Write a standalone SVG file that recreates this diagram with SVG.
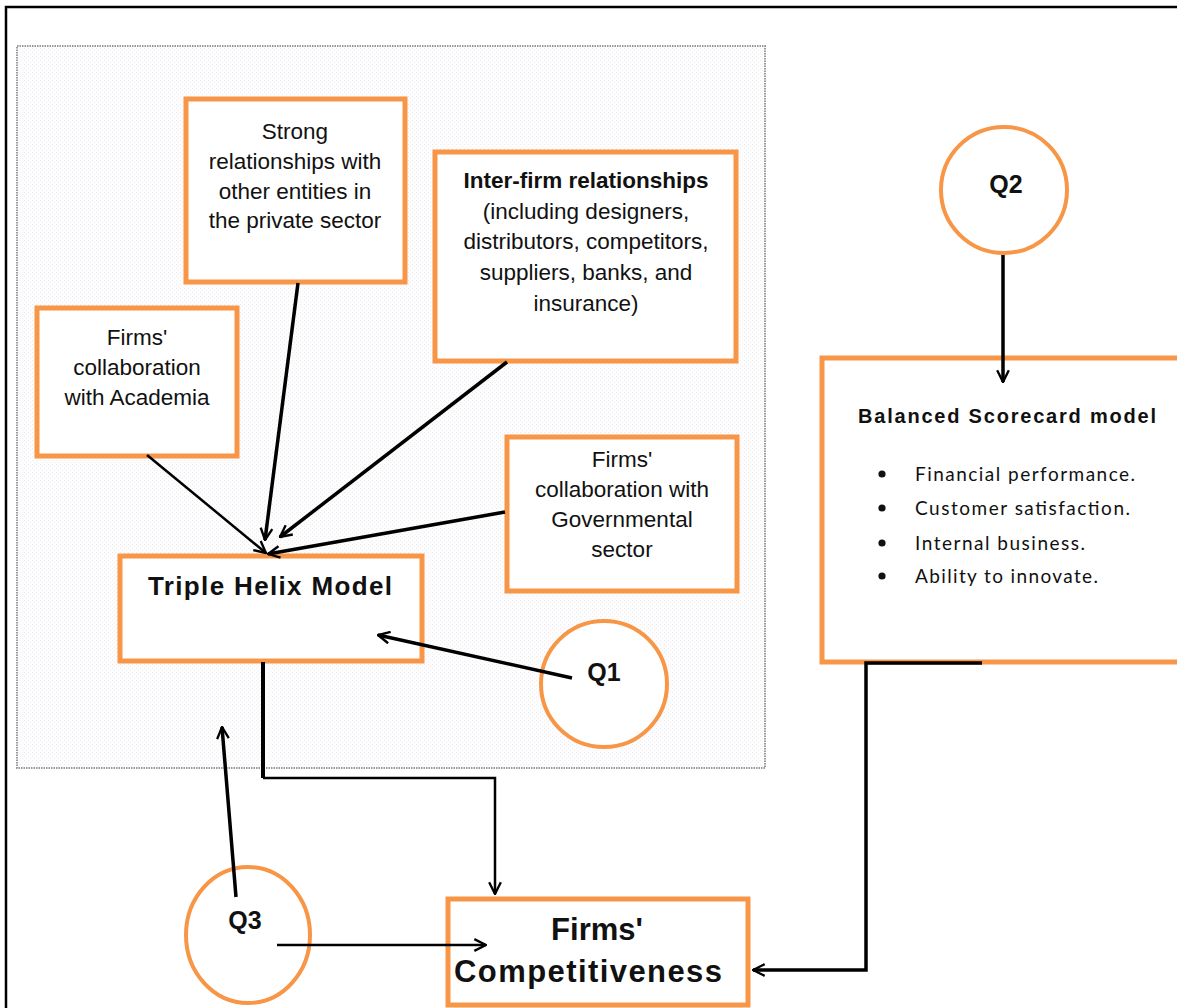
<svg xmlns="http://www.w3.org/2000/svg" width="1177" height="1008" viewBox="0 0 1177 1008">
<defs>
<pattern id="dots" width="4" height="4" patternUnits="userSpaceOnUse">
<rect width="4" height="4" fill="#fdfdfe"/>
<rect x="0" y="0" width="1" height="1" fill="#ebebf2"/>
<rect x="2" y="2" width="1" height="1" fill="#f0f0f5"/>
</pattern>
<marker id="arr" viewBox="0 0 12 12" refX="11" refY="6" markerWidth="14" markerHeight="14" markerUnits="userSpaceOnUse" orient="auto">
<path d="M1,1 L11,6 L1,11" fill="none" stroke="#000" stroke-width="2"/>
</marker>
<style>
.box{fill:#fff;stroke:#F79646;stroke-width:5}
.circ{fill:#fff;stroke:#F79646;stroke-width:4}
.t{font-family:"Liberation Sans",Arial,sans-serif;font-size:22.5px;fill:#111;text-anchor:middle}
.b{font-weight:bold}
.q{font-family:"Liberation Sans",Arial,sans-serif;font-size:25px;font-weight:bold;fill:#111;text-anchor:middle}
.bl{font-family:"Lato","Liberation Sans",sans-serif;font-size:19px;fill:#111}
.c{fill:none;stroke:#000;stroke-width:2.5;marker-end:url(#arr)}
.c3{fill:none;stroke:#000;stroke-width:3.5;marker-end:url(#arr)}
</style>
</defs>
<rect x="0" y="0" width="1177" height="1008" fill="#fff"/>
<rect x="6" y="7" width="1200" height="1060" fill="none" stroke="#000" stroke-width="2.5"/>
<rect id="bg" x="17" y="46" width="748" height="722" fill="url(#dots)" stroke="#999" stroke-width="2" stroke-dasharray="1.5,1"/>

<g id="strong">
<rect class="box" x="186" y="99" width="219" height="183"/>
<text class="t" x="295" y="139">Strong</text>
<text class="t" x="295" y="169">relationships with</text>
<text class="t" x="295" y="199">other entities in</text>
<text class="t" x="295" y="228">the private sector</text>
</g>
<g id="interfirm">
<rect class="box" x="435" y="152" width="301" height="209"/>
<text class="t b" x="586" y="188">Inter-firm relationships</text>
<text class="t" x="586" y="219">(including designers,</text>
<text class="t" x="586" y="249">distributors, competitors,</text>
<text class="t" x="586" y="280">suppliers, banks, and</text>
<text class="t" x="586" y="311">insurance)</text>
</g>
<g id="academia">
<rect class="box" x="37" y="308" width="200" height="148"/>
<text class="t" x="137" y="345">Firms'</text>
<text class="t" x="137" y="375">collaboration</text>
<text class="t" x="137" y="405">with Academia</text>
</g>
<g id="gov">
<rect class="box" x="507" y="437" width="230" height="154"/>
<text class="t" x="622" y="467">Firms'</text>
<text class="t" x="622" y="497">collaboration with</text>
<text class="t" x="622" y="527">Governmental</text>
<text class="t" x="622" y="557">sector</text>
</g>
<g id="triple">
<rect class="box" x="120" y="556" width="302" height="105"/>
<text class="t b" x="270" y="595" style="font-size:26px" textLength="244" lengthAdjust="spacing">Triple Helix Model</text>
</g>
<g id="scorecard">
<rect class="box" x="822" y="358" width="420" height="304"/>
<text class="t b" x="1007" y="423" style="font-size:20px" textLength="298" lengthAdjust="spacing">Balanced Scorecard model</text>
<circle cx="882" cy="474" r="3.6" fill="#111"/>
<circle cx="882" cy="508" r="3.6" fill="#111"/>
<circle cx="882" cy="543" r="3.6" fill="#111"/>
<circle cx="882" cy="576" r="3.6" fill="#111"/>
<text class="bl" x="915" y="481" textLength="220" lengthAdjust="spacing">Financial performance.</text>
<text class="bl" x="915" y="515" textLength="215" lengthAdjust="spacing">Customer satisfaction.</text>
<text class="bl" x="915" y="550" textLength="170" lengthAdjust="spacing">Internal business.</text>
<text class="bl" x="915" y="583" textLength="183" lengthAdjust="spacing">Ability to innovate.</text>
</g>
<g id="firms">
<rect class="box" x="448" y="899" width="300" height="106"/>
<text class="t b" x="597" y="940" style="font-size:31px">Firms'</text>
<text class="t b" x="588" y="982" style="font-size:31px" textLength="268" lengthAdjust="spacing">Competitiveness</text>
</g>
<g id="q1">
<circle class="circ" cx="604" cy="684" r="63"/>
<text class="q" x="604" y="681">Q1</text>
</g>
<g id="q2">
<circle class="circ" cx="1004" cy="190" r="63"/>
<text class="q" x="1006" y="193">Q2</text>
</g>
<g id="q3">
<ellipse class="circ" cx="248" cy="935" rx="62" ry="68"/>
<text class="q" x="245" y="929">Q3</text>
</g>

<g id="connectors">
<path class="c3" d="M298,283 L265,540"/>
<path class="c3" d="M507,362 L280,537"/>
<path class="c" d="M147,455 L266,553"/>
<path class="c3" d="M505,512 L268,554"/>
<path class="c3" d="M572,678 L378,635"/>
<path d="M263,662 L263,778" fill="none" stroke="#000" stroke-width="4"/>
<path class="c" d="M263,778 L495,778 L495,894"/>
<path class="c3" d="M236,897 L222,727"/>
<path class="c" d="M277,945 L486,945"/>
<path class="c3" d="M982,663 L866,663 L866,970 L753,970"/>
<path class="c3" d="M1003,255 L1003,382"/>
</g>
</svg>
